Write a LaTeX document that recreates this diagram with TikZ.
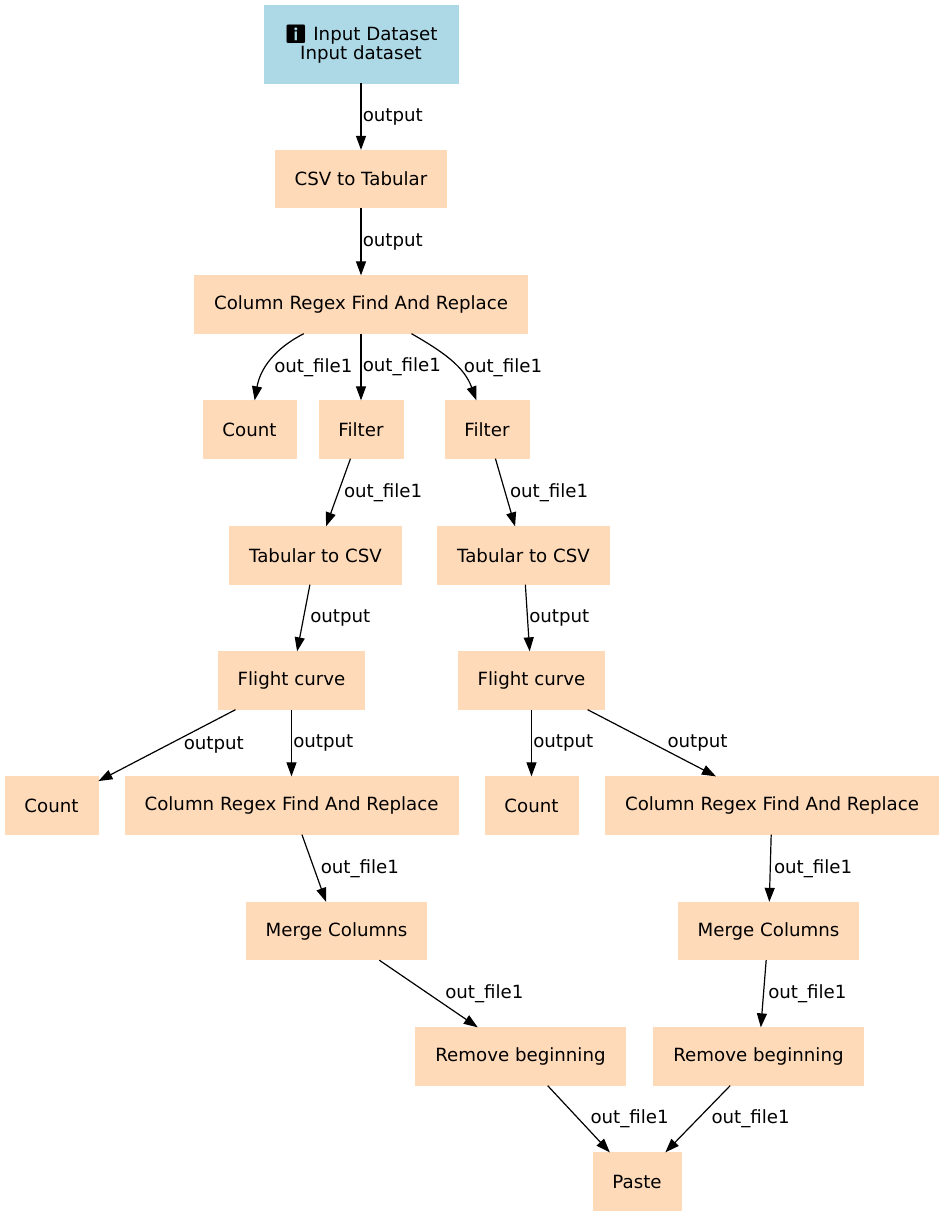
\documentclass[tikz,border=0pt]{standalone}
\usepackage{fontspec}
\setmainfont{DejaVu Sans}
\newfontfamily\emojifont{Noto Emoji}
\usetikzlibrary{arrows.meta}
\definecolor{peach}{HTML}{FFDAB9}
\definecolor{lblue}{HTML}{ADD8E6}
\tikzset{
    >={Triangle[length=7pt,width=5pt]},
    wf/.style={
        x=0.5pt,y=0.5pt,
        tool/.style={fill=peach,draw=peach,minimum height=28.75pt,inner xsep=9.75pt,font=\fontsize{9.1pt}{9.5pt}\selectfont},
        data/.style={tool,fill=lblue,draw=lblue,minimum height=39pt,minimum width=97pt,align=center},
        lbl/.style={anchor=west,inner sep=0.6pt,font=\fontsize{9.1pt}{9.5pt}\selectfont},
        every edge/.append style={draw,->,line width=0.6pt}
    }
}

\begin{document}
\begin{tikzpicture}[wf]
    \useasboundingbox (0,0) rectangle (946,-1216);
    \node[data] (inp) at (361,-44) {{\emojifont ℹ} Input Dataset\\Input dataset};
    \node[tool] (csv) at (361,-179) {CSV to Tabular};
    \node[tool] (cr) at (361,-304.5) {Column Regex Find And Replace};

    % first split
    \node[tool] (cnt) at (249.5,-429.5) {Count};
    \node[tool] (fa) at (361,-429.5) {Filter};
    \node[tool] (fb) at (487,-429.5) {Filter};
    \path (inp) edge node[lbl] {output} (csv);
    \path (csv) edge node[lbl] {output} (cr);
    \path (cr) edge[out=-153,in=80] node[lbl,xshift=1pt,yshift=-3.5pt] {out\_file1} (cnt)
        edge node[lbl] {out\_file1} (fa)
        edge[out=-30,in=110] node[lbl,xshift=5.5pt,yshift=-3.5pt] {out\_file1} (fb);

    % left branch
    \node[tool] (ta) at (315.5,-555.5) {Tabular to CSV};
    \node[tool] (fca) at (291.5,-680.5) {Flight curve};
    \node[tool] (cnta) at (51.5,-805.5) {Count};
    \node[tool] (cra) at (291.5,-805.5) {Column Regex Find And Replace};
    \node[tool] (ma) at (336.5,-931) {Merge Columns};
    \node[tool] (ra) at (520.5,-1056.5) {Remove beginning};
    \path (fa) edge node[lbl,xshift=2pt] {out\_file1} (ta);
    \path (ta) edge node[lbl,xshift=2.5pt] {output} (fca);
    \path (fca) edge node[lbl,xshift=7.5pt] {output} (cnta)
        edge node[lbl] {output} (cra);
    \path (cra) edge node[lbl,xshift=2.5pt] {out\_file1} (ma);
    \path (ma) edge node[lbl,xshift=7.5pt] {out\_file1} (ra);

    % right branch
    \node[tool] (tb) at (523.5,-555.5) {Tabular to CSV};
    \node[tool] (fcb) at (531.5,-680.5) {Flight curve};
    \node[tool] (cntb) at (531.5,-805.5) {Count};
    \node[tool] (crb) at (772,-805.5) {Column Regex Find And Replace};
    \node[tool] (mb) at (768.5,-931) {Merge Columns};
    \node[tool] (rb) at (758.5,-1056.5) {Remove beginning};
    \path (fb) edge node[lbl,xshift=1.5pt] {out\_file1} (tb);
    \path (tb) edge node[lbl] {output} (fcb);
    \path (fcb) edge node[lbl] {output} (cntb)
        edge node[lbl,xshift=7pt] {output} (crb);
    \path (crb) edge node[lbl,xshift=1pt] {out\_file1} (mb);
    \path (mb) edge node[lbl,xshift=1.5pt] {out\_file1} (rb);

    \node[tool] (pa) at (637,-1181.5) {Paste};
    \path (ra) edge node[lbl,xshift=5pt] {out\_file1} (pa);
    \path (rb) edge node[lbl,xshift=6pt] {out\_file1} (pa);
\end{tikzpicture}
\end{document}
